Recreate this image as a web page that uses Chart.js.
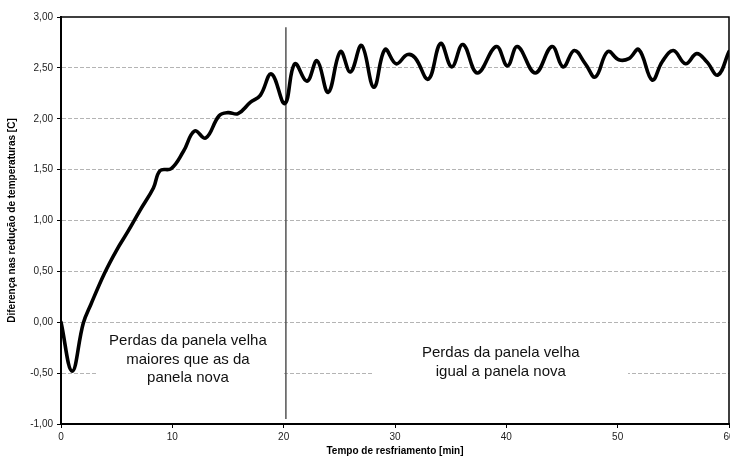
<!DOCTYPE html>
<html lang="pt">
<head>
<meta charset="utf-8">
<title>Diferença nas redução de temperaturas</title>
<script src="https://cdn.jsdelivr.net/npm/chart.js@4/dist/chart.umd.min.js"></script>
<style>
  html, body { margin: 0; padding: 0; background: #fff; overflow: hidden; }
  #wrap { width: 760px; height: 459px; }
</style>
</head>
<body>
<div id="wrap"><canvas id="grafico" width="760" height="459"></canvas></div>
<script>
// Tempo de resfriamento [min]
const tempoMin = [0, 1.0, 2.0, 2.7, 3.9, 5.0, 6.0, 7.1, 8.3, 8.9, 9.9, 11.0, 12.0, 13.0, 14.2,
  15.0, 15.9, 17.0, 17.9, 18.9, 20.1, 21.0, 22.1, 23.0, 24.0, 25.1, 26.0, 27.0, 28.1, 29.1,
  30.1, 31.1, 31.8, 33.0, 34.1, 35.1, 36.1, 37.4, 39.1, 40.1, 41.0, 42.6, 44.1, 45.1, 46.1,
  47.1, 48.0, 49.1, 50.1, 51.0, 51.9, 53.1, 54.0, 55.0, 56.1, 57.1, 58.0, 59.0, 60.0];

// Diferença nas redução de temperaturas [C]
const diferenca = [0.00, -0.48, -0.01, 0.18, 0.48, 0.71, 0.89, 1.10, 1.32, 1.49, 1.51, 1.68, 1.88, 1.81, 2.03,
  2.06, 2.05, 2.16, 2.23, 2.44, 2.15, 2.54, 2.37, 2.57, 2.26, 2.66, 2.46, 2.72, 2.31, 2.68,
  2.54, 2.63, 2.60, 2.39, 2.74, 2.51, 2.73, 2.45, 2.71, 2.52, 2.71, 2.45, 2.71, 2.51, 2.67,
  2.54, 2.41, 2.66, 2.58, 2.59, 2.68, 2.38, 2.56, 2.67, 2.54, 2.64, 2.56, 2.43, 2.66];

// Linha vertical que separa os dois regimes
const tempoDivisa = 20.2;
const divisaExtremos = [2.90, -0.95];

// Faixas dos eixos
const eixoX = { min: 0, max: 60, passo: 10 };
const eixoY = { min: -1, max: 3, passo: 0.5 };

// Textos explicativos
const textoAntes = ['Perdas da panela velha', 'maiores que as da', 'panela nova'];
const textoDepois = ['Perdas da panela velha', 'igual a panela nova'];

const serie = tempoMin.map((t, i) => ({ x: t, y: diferenca[i] }));
const divisa = divisaExtremos.map(v => ({ x: tempoDivisa, y: v }));

const FONTE = "'Liberation Sans', Arial, Helvetica, sans-serif";

// Moldura superior/direita e caixas de texto sobre a grade
const anotacoes = {
  id: 'anotacoes',
  beforeDatasetsDraw(chart) {
    const { ctx, scales: { x } } = chart;
    ctx.save();
    ctx.fillStyle = '#fff';
    // caixa da esquerda
    ctx.fillRect(96, 330, 186, 58);
    // caixa da direita
    ctx.fillRect(372, 341, 256, 42);
    ctx.fillStyle = '#111';
    ctx.font = '15px ' + FONTE;
    ctx.textAlign = 'center';
    ctx.textBaseline = 'middle';
    const cxA = x.getPixelForValue(11.4);
    textoAntes.forEach((l, i) => ctx.fillText(l, cxA, 341 + i * 18.5));
    const cxB = x.getPixelForValue(39.5);
    textoDepois.forEach((l, i) => ctx.fillText(l, cxB, 353 + i * 19));
    ctx.restore();
  },
  afterDraw(chart) {
    const { ctx, chartArea: a } = chart;
    ctx.save();
    ctx.strokeStyle = '#000';
    ctx.lineWidth = 1.5;
    ctx.beginPath();
    ctx.moveTo(a.left, a.top);
    ctx.lineTo(a.right, a.top);
    ctx.lineTo(a.right, a.bottom);
    ctx.stroke();
    ctx.restore();
  }
};

new Chart(document.getElementById('grafico'), {
  type: 'line',
  data: {
    datasets: [
      {
        data: divisa,
        borderColor: '#555',
        borderWidth: 1.5,
        pointRadius: 0,
        tension: 0,
        order: 2
      },
      {
        data: serie,
        borderColor: '#000',
        borderWidth: 3.6,
        pointRadius: 0,
        tension: 0.4,
        borderJoinStyle: 'round',
        borderCapStyle: 'round',
        order: 1
      }
    ]
  },
  plugins: [anotacoes],
  options: {
    responsive: false,
    animation: false,
    devicePixelRatio: 1,
    layout: { padding: { left: 0, top: 17, right: 31, bottom: 0 } },
    plugins: { legend: { display: false }, tooltip: { enabled: false } },
    scales: {
      x: {
        type: 'linear',
        min: eixoX.min,
        max: eixoX.max,
        afterFit(s) { s.height = 35; },
        ticks: {
          stepSize: eixoX.passo,
          color: '#222',
          font: { family: FONTE, size: 10 },
          padding: 3,
          maxRotation: 0
        },
        grid: {
          drawOnChartArea: false,
          drawTicks: true,
          tickLength: 4,
          tickColor: '#000',
          tickWidth: 1
        },
        border: { display: true, color: '#000', width: 2 },
        title: {
          display: true,
          text: 'Tempo de resfriamento [min]',
          color: '#000',
          font: { family: FONTE, size: 10, weight: 'bold' },
          padding: { top: 0, bottom: 2 }
        }
      },
      y: {
        type: 'linear',
        min: eixoY.min,
        max: eixoY.max,
        afterFit(s) { s.width = 61; },
        ticks: {
          stepSize: eixoY.passo,
          color: '#222',
          font: { family: FONTE, size: 10 },
          padding: 4,
          callback: v => v.toFixed(2).replace('.', ',')
        },
        grid: {
          color: ctx => (ctx.tick && (ctx.tick.value === eixoY.min || ctx.tick.value === eixoY.max)) ? 'rgba(0,0,0,0)' : '#b4b4b4',
          lineWidth: 1,
          drawTicks: true,
          tickLength: 4,
          tickColor: '#000',
          tickWidth: 1,
          tickBorderDash: []
        },
        border: { display: true, color: '#000', width: 2, dash: [4, 2] },
        title: {
          display: true,
          text: 'Diferença nas redução de temperaturas [C]',
          color: '#000',
          font: { family: FONTE, size: 10, weight: 'bold' },
          padding: { top: 6, bottom: 0 }
        }
      }
    }
  }
});
</script>
</body>
</html>
